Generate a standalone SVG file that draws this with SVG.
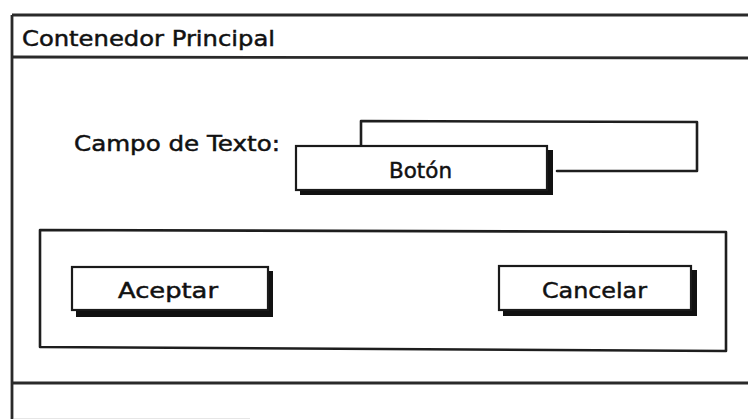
<svg xmlns="http://www.w3.org/2000/svg" width="748" height="419" viewBox="0 0 748 419">
  <style>
    .ln { fill: none; stroke: #1e1e1e; stroke-width: 2.6; stroke-linejoin: round; stroke-linecap: round; }
    .frame { fill: none; stroke: #2a2a2a; stroke-width: 2.8; }
    .btn { fill: #ffffff; stroke: #1a1a1a; stroke-width: 2.2; }
    .shadow { fill: #111111; }
    .lbl { font-family: "DejaVu Sans", "Liberation Sans", sans-serif; fill: #111111; stroke: #111111; stroke-width: 0.5; }
  </style>
  <rect x="0" y="0" width="748" height="419" fill="#ffffff"/>

  <!-- main window frame with title bar and status bar -->
  <g id="contenedor-principal">
    <path class="frame" d="M12,15 L748,15"/>
    <path class="frame" d="M12,57 L748,58"/>
    <path class="frame" d="M12,15 L12,419"/>
    <path class="frame" d="M12,383 L748,383"/>
    <path d="M14,418.5 L250,418.5" stroke="#e6e6e6" stroke-width="1" fill="none"/>
    <text class="lbl" x="22" y="46" font-size="22" textLength="253" lengthAdjust="spacingAndGlyphs">Contenedor Principal</text>
  </g>

  <!-- text field label -->
  <g id="campo-texto-label">
    <text class="lbl" x="74" y="151" font-size="22" textLength="206" lengthAdjust="spacingAndGlyphs">Campo de Texto:</text>
  </g>

  <!-- text input box -->
  <g id="campo-texto">
    <path class="ln" d="M361,148 L361,121 L697,122 L697,171 L557,171"/>
  </g>

  <!-- floating button -->
  <g id="boton">
    <rect class="shadow" x="300" y="150" width="253" height="45"/>
    <rect class="btn" x="296" y="146" width="251" height="44"/>
    <text class="lbl" x="389" y="178" font-size="22" textLength="63" lengthAdjust="spacingAndGlyphs">Botón</text>
  </g>

  <!-- button panel -->
  <g id="panel-botones">
    <path class="ln" d="M40,230 L726,232 L726,351 L40,347 Z"/>
  </g>

  <g id="aceptar">
    <rect class="shadow" x="76" y="271" width="197" height="46"/>
    <rect class="btn" x="72" y="267" width="196" height="43"/>
    <text class="lbl" x="118" y="298" font-size="22" textLength="100" lengthAdjust="spacingAndGlyphs">Aceptar</text>
  </g>

  <g id="cancelar">
    <rect class="shadow" x="503" y="270" width="194" height="46"/>
    <rect class="btn" x="499" y="266" width="192" height="44"/>
    <text class="lbl" x="542" y="298" font-size="22" textLength="105" lengthAdjust="spacingAndGlyphs">Cancelar</text>
  </g>
</svg>
